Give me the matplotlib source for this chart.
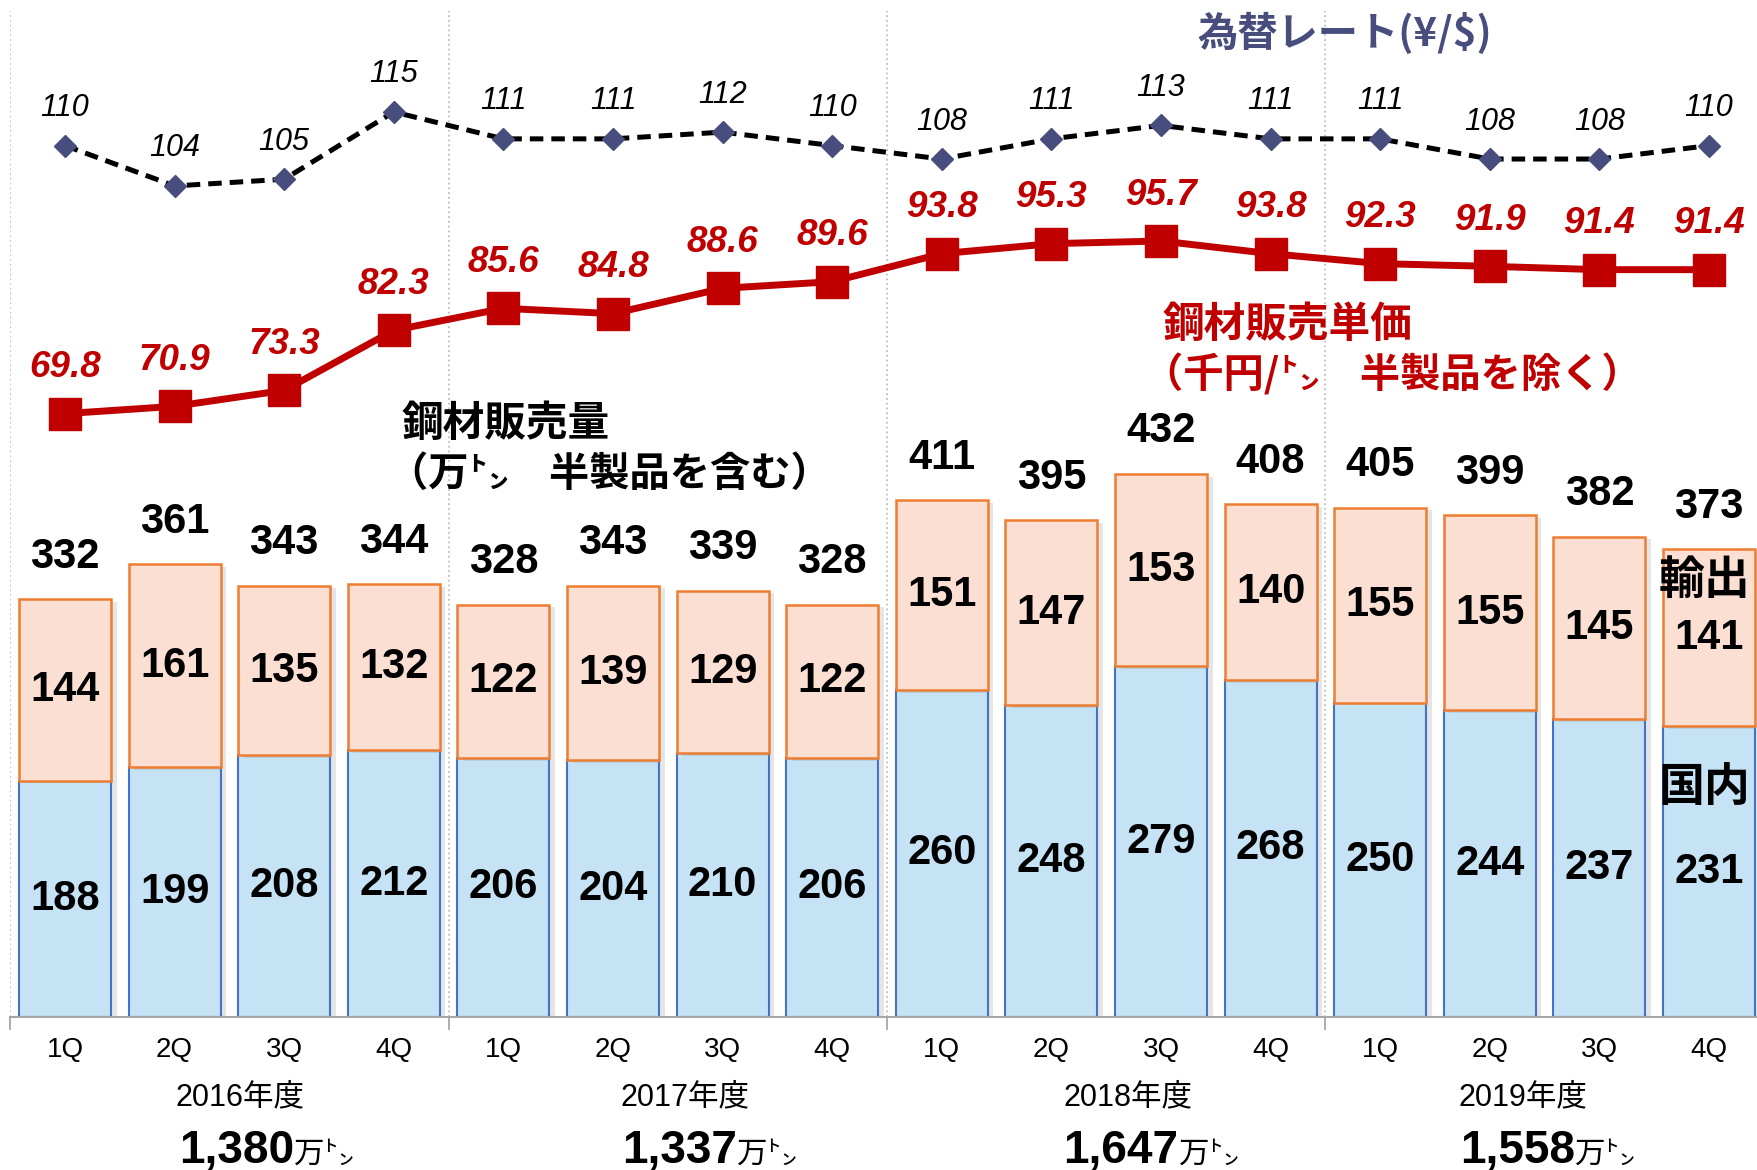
import numpy as np
import matplotlib
matplotlib.use('Agg')
import matplotlib.pyplot as plt
import matplotlib.patheffects as pe

# ---------------- data ----------------
quarters = ['1Q', '2Q', '3Q', '4Q'] * 4
domestic = [188, 199, 208, 212, 206, 204, 210, 206, 260, 248, 279, 268, 250, 244, 237, 231]
export = [144, 161, 135, 132, 122, 139, 129, 122, 151, 147, 153, 140, 155, 155, 145, 141]
totals = [332, 361, 343, 344, 328, 343, 339, 328, 411, 395, 432, 408, 405, 399, 382, 373]
price = [69.8, 70.9, 73.3, 82.3, 85.6, 84.8, 88.6, 89.6, 93.8, 95.3, 95.7, 93.8, 92.3, 91.9, 91.4, 91.4]
fx_rate = [110, 104, 105, 115, 111, 111, 112, 110, 108, 111, 113, 111, 111, 108, 108, 110]
years = ['2016年度', '2017年度', '2018年度', '2019年度']
year_totals = ['1,380', '1,337', '1,647', '1,558']

LAT = ['Liberation Sans', 'Noto Sans CJK JP', 'DejaVu Sans']
CJK = ['Noto Sans CJK JP', 'Liberation Sans', 'DejaVu Sans']
plt.rcParams['font.family'] = LAT

RED = '#C00000'
NAVY = '#474D7C'

fig = plt.figure(figsize=(17.58, 11.70), dpi=100)
ax = fig.add_axes([0.0058, 0.1308, 0.9975, 0.8598])
x = np.arange(len(quarters))

shadow = [pe.SimplePatchShadow(offset=(4, -2), shadow_rgbFace='#8C8C8C', alpha=0.22), pe.Normal()]
b1 = ax.bar(x, domestic, 0.84, color='#C6E2F5', edgecolor='#4472C4', linewidth=1.5, zorder=2)
b2 = ax.bar(x, export, 0.84, bottom=domestic, color='#FBDFD2', edgecolor='#ED7D31', linewidth=1.8, zorder=2)
for bars in (b1, b2):
    for p in bars:
        p.set_path_effects(shadow)

ax.set_xlim(-0.5, 15.5)
ax.set_ylim(0, 800)
for s in ['top', 'right', 'left']:
    ax.spines[s].set_visible(False)
ax.spines['bottom'].set_color('#A6A6A6')
ax.spines['bottom'].set_linewidth(1.5)
ax.set_yticks([])
ax.set_xticks([])
ax.set_xticks([-0.5, 3.5, 7.5, 11.5], minor=True)
ax.tick_params(axis='x', which='minor', length=9, width=1.3, color='#A6A6A6', labelbottom=False)
for sx in [-0.5, 3.5, 7.5, 11.5]:
    ax.axvline(sx, color='#BFBFBF', linestyle=':', linewidth=1.3, zorder=1)

# bar labels
for i in range(len(x)):
    ax.text(i, domestic[i] / 2, str(domestic[i]), ha='center', va='center',
            fontsize=30, fontweight='bold', color='black', zorder=6)
    ax.text(i, domestic[i] + export[i] / 2, str(export[i]), ha='center', va='center',
            fontsize=30, fontweight='bold', color='black', zorder=6)
    ax.annotate(str(totals[i]), (i, domestic[i] + export[i]), xytext=(0, 30.5),
                textcoords='offset points', ha='center', va='center',
                fontsize=30, fontweight='bold', color='black', zorder=6)

# quarter / year labels
xt = ax.get_xaxis_transform()
for i, q in enumerate(quarters):
    ax.text(i, -0.0328, q, transform=xt, ha='center', va='center', fontsize=20, color='black')
year_x = [1.6, 5.66, 9.70, 13.30]
split_x = [2.09, 6.13, 10.16, 13.78]
for yx, sx, yl, yt in zip(year_x, split_x, years, year_totals):
    ax.text(yx, -0.0795, yl, transform=xt, ha='center', va='center', fontsize=22, color='black')
    ax.text(sx, -0.1451, yt, transform=xt, ha='right', va='baseline', fontsize=33,
            fontweight='bold', color='black')
    ax.text(sx, -0.1451, '万㌧', transform=xt, ha='left', va='baseline', fontsize=22,
            family=CJK, color='black')

# price line
ax2 = ax.twinx()
ax2.set_ylim(-20.7, 130.2)
ax2.axis('off')
ax2.plot(x, price, color=RED, linewidth=5, marker='s', markersize=23, zorder=5)
for i, v in enumerate(price):
    ax2.annotate(f'{v:.1f}', (i, v), xytext=(0, 33), textcoords='offset points',
                 ha='center', va='center', fontsize=26.5, fontweight='bold',
                 fontstyle='italic', color=RED)

# exchange rate line
ax3 = ax.twinx()
ax3.set_ylim(-19.5, 130.0)
ax3.axis('off')
ax3.plot(x, fx_rate, color='black', linewidth=3.6, linestyle=(0, (2.7, 1.6)), zorder=5)
ax3.plot(x, fx_rate, linestyle='none', marker='D', markersize=11,
         markerfacecolor=NAVY, markeredgecolor=NAVY, zorder=6)
for i, v in enumerate(fx_rate):
    ax3.annotate(str(v), (i, v), xytext=(0, 27), textcoords='offset points',
                 ha='center', va='center', fontsize=22, fontstyle='italic', color='black')

# series annotations (bar axis data coords)
ax.text(11.68, 781.7, '為替レート(¥/$)', ha='center', va='center', fontsize=29,
        fontweight='bold', family=CJK, color=NAVY, zorder=7)
ax.text(10.01, 550.3, '鋼材販売単価', ha='left', va='center', fontsize=30,
        fontweight='bold', family=CJK, color=RED, zorder=7)
ax.text(9.84, 510.5, '（千円/㌧　半製品を除く）', ha='left', va='center', fontsize=29,
        fontweight='bold', family=CJK, color=RED, zorder=7)
ax.text(3.07, 471.6, '鋼材販売量', ha='left', va='center', fontsize=30,
        fontweight='bold', family=CJK, color='black', zorder=7)
ax.text(2.95, 431.8, '（万㌧　半製品を含む）', ha='left', va='center', fontsize=29,
        fontweight='bold', family=CJK, color='black', zorder=7)
ax.text(14.96, 346.7, '輸出', ha='center', va='center', fontsize=33,
        fontweight='bold', family=CJK, color='black', zorder=7)
ax.text(14.96, 182, '国内', ha='center', va='center', fontsize=33,
        fontweight='bold', family=CJK, color='black', zorder=7)

fig.savefig('out.png', dpi=100)
